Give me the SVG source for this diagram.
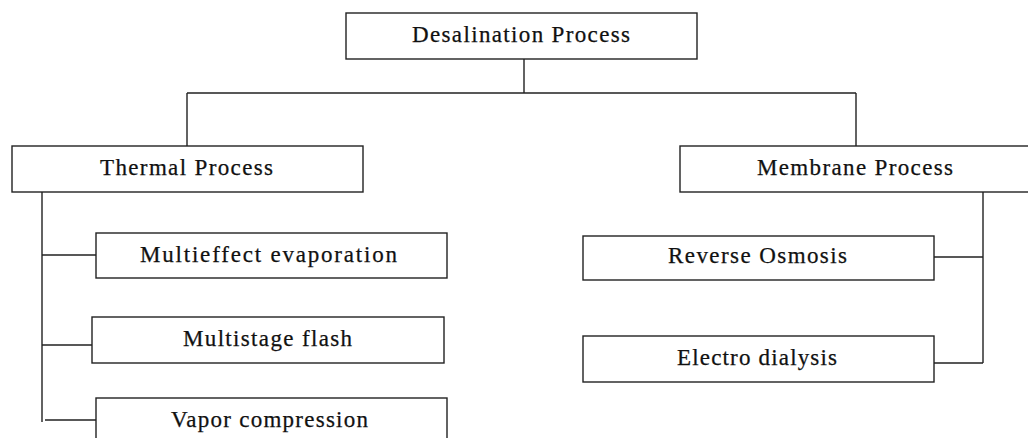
<svg xmlns="http://www.w3.org/2000/svg" width="1028" height="438" viewBox="0 0 1028 438">
  <style>
    .box { fill: #ffffff; stroke: #222222; stroke-width: 1.4; }
    .lbl { font-family: "Liberation Serif", "Times New Roman", "DejaVu Serif", serif; font-size: 23px; fill: #111111; stroke: #111111; stroke-width: 0.25; }
    .wire { fill: none; stroke: #222222; stroke-width: 1.4; }
  </style>
  <rect width="1028" height="438" fill="#ffffff"/>

  <!-- connectors -->
  <g id="connectors">
    <path class="wire" d="M524 59 V93 M187 93 H856 M187 93 V146 M856 93 V146"/>
    <path class="wire" d="M42 192 V422 M42 255 H96 M42 345 H92 M45 420 H96"/>
    <path class="wire" d="M983 192 V363 M934 257 H983 M934 363 H983"/>
  </g>

  <g id="desalination">
    <rect class="box" x="346" y="13" width="351" height="46"/>
    <text class="lbl" x="412" y="42" textLength="218" lengthAdjust="spacing">Desalination Process</text>
  </g>

  <g id="thermal">
    <rect class="box" x="12" y="146" width="351" height="46"/>
    <text class="lbl" x="100" y="175" textLength="173" lengthAdjust="spacing">Thermal Process</text>
  </g>

  <g id="membrane">
    <rect class="box" x="680" y="146" width="352" height="46"/>
    <text class="lbl" x="757" y="175" textLength="196" lengthAdjust="spacing">Membrane Process</text>
  </g>

  <g id="multieffect">
    <rect class="box" x="96" y="233" width="351" height="45"/>
    <text class="lbl" x="140" y="262" textLength="257" lengthAdjust="spacing">Multieffect evaporation</text>
  </g>

  <g id="multistage">
    <rect class="box" x="92" y="317" width="352" height="46"/>
    <text class="lbl" x="183" y="346" textLength="169" lengthAdjust="spacing">Multistage flash</text>
  </g>

  <g id="vapor">
    <rect class="box" x="96" y="398" width="351" height="46"/>
    <text class="lbl" x="171" y="427" textLength="197" lengthAdjust="spacing">Vapor compression</text>
  </g>

  <g id="reverse-osmosis">
    <rect class="box" x="583" y="236" width="351" height="44"/>
    <text class="lbl" x="668" y="263" textLength="179" lengthAdjust="spacing">Reverse Osmosis</text>
  </g>

  <g id="electro-dialysis">
    <rect class="box" x="583" y="336" width="351" height="46"/>
    <text class="lbl" x="677" y="365" textLength="160" lengthAdjust="spacing">Electro dialysis</text>
  </g>
</svg>
